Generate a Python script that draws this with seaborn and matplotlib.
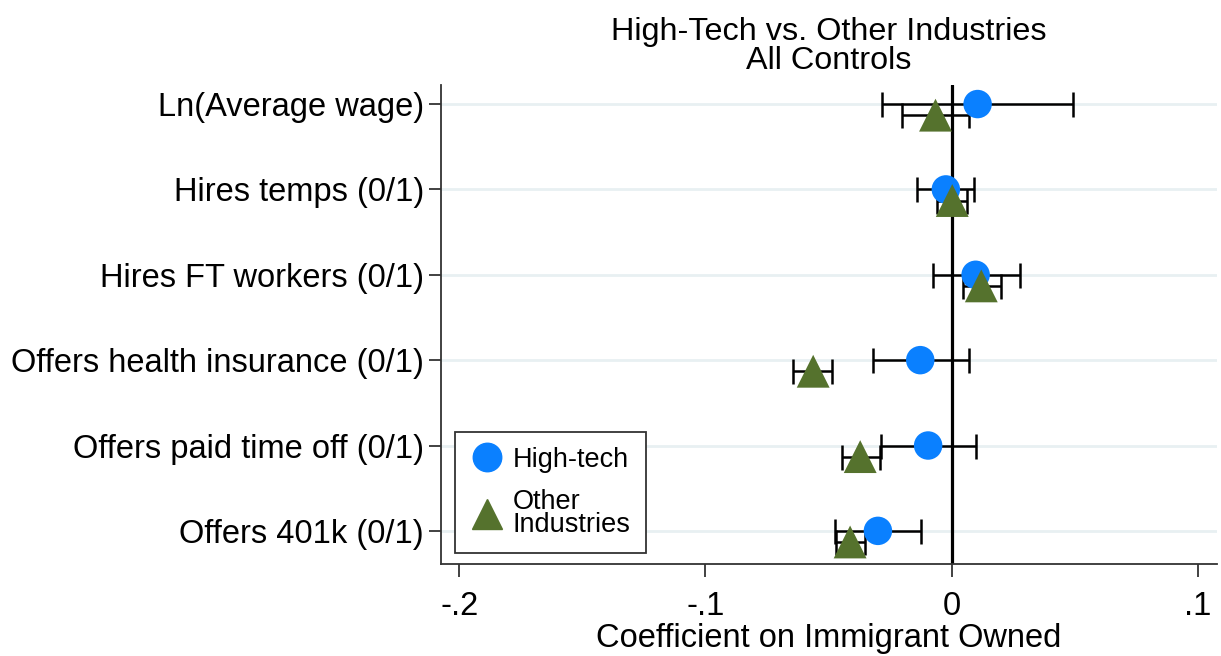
import numpy as np
import pandas as pd
import matplotlib
matplotlib.use("Agg")
import matplotlib.pyplot as plt
import seaborn as sns
from matplotlib.lines import Line2D

# outcomes, top to bottom
outcomes = ["Ln(Average wage)", "Hires temps (0/1)", "Hires FT workers (0/1)",
            "Offers health insurance (0/1)", "Offers paid time off (0/1)",
            "Offers 401k (0/1)"]

# coefficient and 95% CI
tech_coef = [0.0106, -0.0023, 0.0098, -0.0127, -0.0095, -0.0299]
tech_lo = [-0.0283, -0.0140, -0.0075, -0.0320, -0.0287, -0.0473]
tech_hi = [0.0494, 0.0091, 0.0278, 0.0070, 0.0101, -0.0122]

other_coef = [-0.0065, 0.0003, 0.0121, -0.0562, -0.0371, -0.0412]
other_lo = [-0.0203, -0.0058, 0.0046, -0.0644, -0.0446, -0.0470]
other_hi = [0.0071, 0.0064, 0.0203, -0.0487, -0.0290, -0.0351]

groups = ["High-tech", "Other\nIndustries"]

rows = []
for i, name in enumerate(outcomes):
    rows.append(dict(outcome=name, group=groups[0], coef=tech_coef[i],
                     lo=tech_lo[i], hi=tech_hi[i], y=i))
    rows.append(dict(outcome=name, group=groups[1], coef=other_coef[i],
                     lo=other_lo[i], hi=other_hi[i], y=i + 0.13))
df = pd.DataFrame(rows)

sns.set_style("white")
plt.rcParams["font.family"] = ["Liberation Sans", "DejaVu Sans"]
plt.rcParams["text.color"] = "black"
plt.rcParams["axes.labelcolor"] = "black"
plt.rcParams["xtick.color"] = "black"
plt.rcParams["ytick.color"] = "black"

fig = plt.figure(figsize=(12.21, 6.56), dpi=100)
ax = fig.add_axes([0.361, 0.140, 0.636, 0.730])

for y in range(len(outcomes)):
    ax.axhline(y, color="#e8f0f2", lw=2, zorder=0)
ax.axvline(0, color="black", lw=2.3, zorder=1)

# confidence intervals
for _, r in df.iterrows():
    ax.errorbar(r["coef"], r["y"], xerr=[[r["coef"] - r["lo"]], [r["hi"] - r["coef"]]],
                fmt="none", ecolor="black", elinewidth=1.8, capsize=9,
                capthick=1.8, zorder=2)

palette = {groups[0]: "#0a80ff", groups[1]: "#55722d"}
markers = {groups[0]: "o", groups[1]: "^"}
sizes = {groups[0]: 420, groups[1]: 560}
sns.scatterplot(data=df, x="coef", y="y", hue="group", style="group",
                size="group", sizes=sizes,
                palette=palette, markers=markers, linewidth=0,
                ax=ax, zorder=3, legend=False)

ax.set_xlim(-0.2075, 0.108)
ax.set_ylim(5.39, -0.22)
ax.set_xticks([-0.2, -0.1, 0, 0.1])
ax.set_xticklabels(["-.2", "-.1", "0", ".1"])
ax.set_yticks(range(len(outcomes)))
ax.set_yticklabels(outcomes)
ax.tick_params(axis="both", labelsize=23.5, length=9, width=1.3,
               color="#333333", direction="out", bottom=True, left=True)
ax.tick_params(axis="x", pad=10)
ax.tick_params(axis="y", pad=3)
ax.set_xlabel("Coefficient on Immigrant Owned", fontsize=23.5, labelpad=1)
ax.set_ylabel("")
ax.set_title("High-Tech vs. Other Industries\nAll Controls", fontsize=23.3,
             linespacing=0.92, pad=12)

for side in ["top", "right"]:
    ax.spines[side].set_visible(False)
for side in ["left", "bottom"]:
    ax.spines[side].set_color("#333333")
    ax.spines[side].set_linewidth(1.3)

# legend built from the same styles
handles = [Line2D([], [], ls="none", marker=markers[g], color=palette[g],
                  markersize=20.5 if g == groups[0] else 22) for g in groups]
leg = ax.legend(handles, groups, loc="lower left", bbox_to_anchor=(0.018, 0.024),
                fontsize=19.5, frameon=True, fancybox=False,
                handletextpad=0.3, labelspacing=0.6, borderpad=0.55,
                handlelength=1.3, edgecolor="#333333", framealpha=1,
                borderaxespad=0)
leg.get_frame().set_linewidth(1.3)
for t in leg.get_texts():
    t.set_linespacing(0.85)

fig.savefig("out.png", dpi=100)
